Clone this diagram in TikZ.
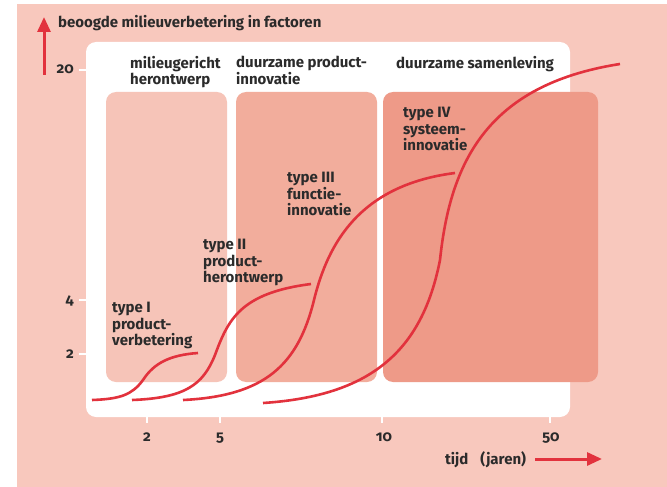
\documentclass[tikz,border=0pt]{standalone}
\usepackage{fontspec}
\setmainfont{Fira Sans}[Numbers=OldStyle]
\usetikzlibrary{arrows.meta}
\definecolor{bgpink}{HTML}{F8C8BD}
\definecolor{boxA}{HTML}{F6C4B8}
\definecolor{boxB}{HTML}{F2AD9C}
\definecolor{boxC}{HTML}{EE9A88}
\definecolor{curvered}{HTML}{E2323D}
\definecolor{txt}{HTML}{2B2B2B}
\begin{document}
\begin{tikzpicture}[x=1pt,y=-1pt,
  lbl/.style={font=\fontsize{15}{16.5}\selectfont\bfseries, text=txt, inner sep=0pt, anchor=north west, align=left},
  ticks/.style={draw=white, line width=2pt},
  num/.style={font=\fontsize{15}{16}\selectfont\bfseries, text=txt, inner sep=0pt},
  scurve/.style={draw=curvered, line width=2.6pt},
  axarrow/.style={draw=curvered, line width=3pt, -{Triangle[length=15pt,width=13pt]}}]
\useasboundingbox (0,0) rectangle (667,487);
\fill[bgpink] (17,4) rectangle (667,487);
\fill[white, rounded corners=10pt] (86,42) rectangle (570,417);
% phase boxes
\fill[boxA, rounded corners=10pt] (106,92) rectangle (227,382);
\fill[boxB, rounded corners=10pt] (236,92) rectangle (377,382);
\fill[boxC, rounded corners=10pt] (383,92) rectangle (598,382);
% ticks
\draw[ticks] (79,70) -- (86,70);
\draw[ticks] (79,300) -- (86,300);
\draw[ticks] (79,354) -- (86,354);
\draw[ticks] (147,417) -- (147,423);
\draw[ticks] (220,417) -- (220,423);
\draw[ticks] (382,417) -- (382,423);
\draw[ticks] (550,417) -- (550,423);
% tick labels
\node[num, anchor=base east] (y20) at (74,74) {20};
\node[num, anchor=base east] (y4) at (74,304) {4};
\node[num, anchor=base east] (y2) at (74,358) {2};
\node[num, anchor=base] (x2) at (147,441) {2};
\node[num, anchor=base] (x5) at (220,441) {5};
\node[num, anchor=base] (x10) at (384,441) {10};
\node[num, anchor=base] (x50) at (551,441) {50};
% S-curves
\draw[scurve] (92,400) .. controls (120,399) and (132,395) .. (143,380)
  .. controls (154,363) and (170,355) .. (198,353);
\draw[scurve] (132,400) .. controls (185,398) and (203,385) .. (215,355)
  .. controls (228,320) and (240,293) .. (311,284);
\draw[scurve] (183,400) .. controls (265,396) and (298,365) .. (314,300)
  .. controls (328,243) and (360,185) .. (455,173);
\draw[scurve] (263,403) .. controls (370,396) and (422,352) .. (440,260)
  .. controls (450,165) and (485,85) .. (620,64);
% axes
\coordinate (ybot) at (44,75);
\coordinate (ytop) at (44,17);
\draw[axarrow] (ybot) -- (ytop);
\coordinate (xleft) at (535,459);
\coordinate (xright) at (602,459);
\draw[axarrow] (xleft) -- (xright);
\node[num, anchor=base west] (ylabel) at (58,28) {beoogde milieuverbetering in factoren};
\node[num, anchor=base west] (xlabel) at (445,464) {tijd\hspace{12pt}(jaren)};
% phase titles
\node[lbl] (t1) at (130,56) {\rule{0pt}{10pt}milieugericht\\herontwerp};
\node[lbl] (t2) at (236,56) {\rule{0pt}{10pt}duurzame product-\\innovatie};
\node[lbl] (t3) at (396,56) {\rule{0pt}{10pt}duurzame samenleving};
% type labels
\node[lbl] (typeI) at (112,302) {\rule{0pt}{10pt}type I\\product-\\verbetering};
\node[lbl] (typeII) at (203,239) {\rule{0pt}{10pt}type II\\product-\\herontwerp};
\node[lbl] (typeIII) at (287,172) {\rule{0pt}{10pt}type III\\functie-\\innovatie};
\node[lbl] (typeIV) at (403,107) {\rule{0pt}{10pt}type IV\\systeem-\\innovatie};
\end{tikzpicture}
\end{document}
